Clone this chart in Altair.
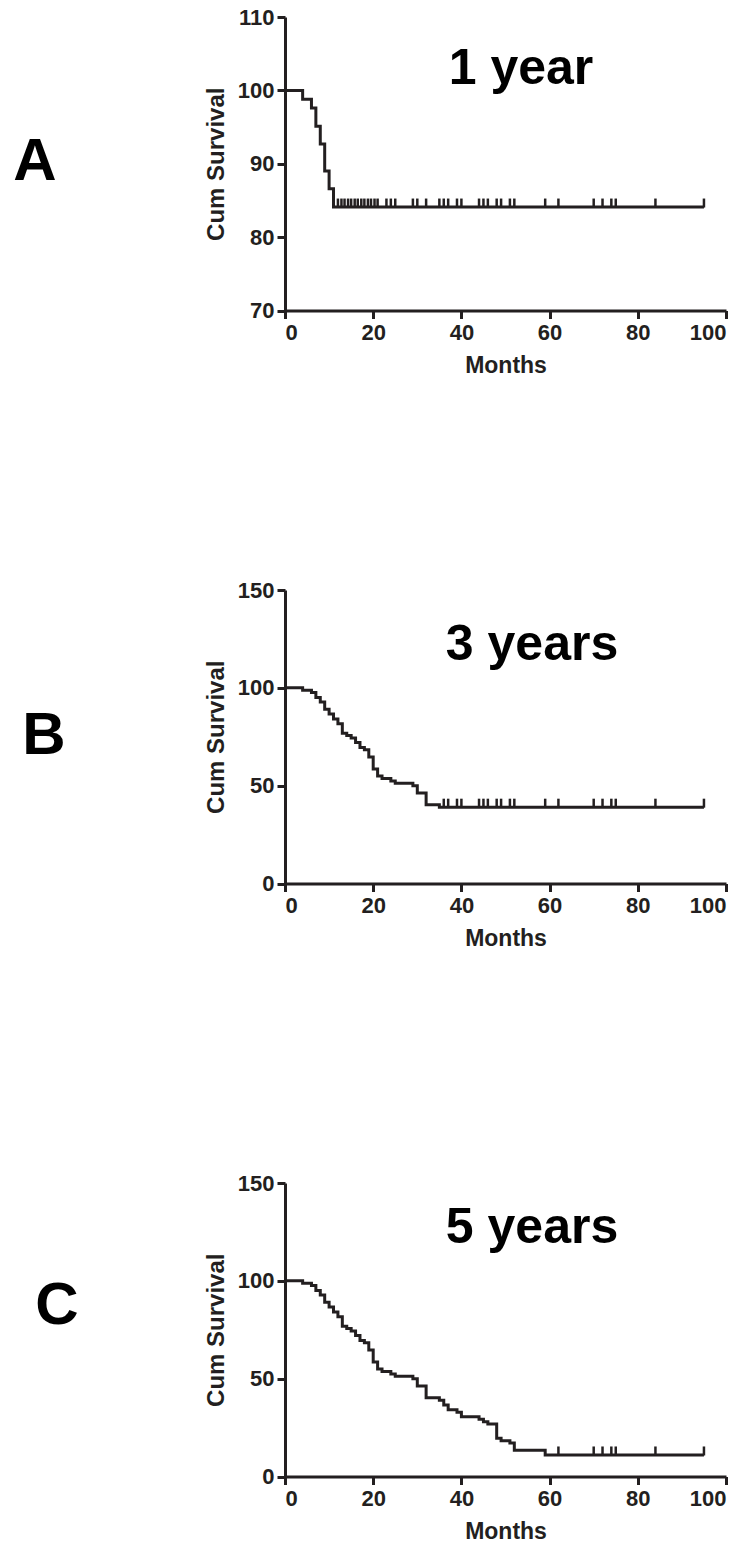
import altair as alt
import pandas as pd

INK = "#231f20"

# ---- Panel A: 1 year ----
months_a = [0, 4, 6, 7, 8, 9, 10, 11, 95]
surv_a = [100, 98.8, 97.6, 95.1, 92.7, 89.0, 86.6, 84.1, 84.1]
cens_a = [12, 12.8, 13.5, 14.3, 15, 15.8, 16.5, 17.3, 18, 18.8, 19.5, 20.3, 21,
          23, 24, 25, 29, 30, 32, 35, 36, 37, 39, 40, 44, 45, 46, 48, 49, 51, 52,
          59, 62, 70, 72, 74, 75, 84, 95]

# ---- Panel B: 3 years ----
months_b = [0, 4, 6, 7, 8, 9, 10, 11, 12, 13, 14, 15, 16, 17, 18, 19, 20, 21, 22,
            24, 25, 29, 30, 32, 35, 95]
surv_b = [100, 98.8, 97.6, 95.1, 92.7, 89.0, 86.6, 84.1, 81.7, 76.8, 75.6, 74.4,
          72.0, 69.5, 68.3, 64.6, 58.5, 54.9, 53.7, 52.4, 51.2, 50.0, 46.3, 40.2,
          39.0, 39.0]
cens_b = [36, 37, 39, 40, 44, 45, 46, 48, 49, 51, 52, 59, 62, 70, 72, 74, 75, 84, 95]

# ---- Panel C: 5 years ----
months_c = [0, 4, 6, 7, 8, 9, 10, 11, 12, 13, 14, 15, 16, 17, 18, 19, 20, 21, 22,
            24, 25, 29, 30, 32, 35, 36, 37, 39, 40, 44, 45, 46, 48, 49, 51, 52, 59, 95]
surv_c = [100, 98.8, 97.6, 95.1, 92.7, 89.0, 86.6, 84.1, 81.7, 76.8, 75.6, 74.4,
          72.0, 69.5, 68.3, 64.6, 58.5, 54.9, 53.7, 52.4, 51.2, 50.0, 46.3, 40.2,
          39.0, 36.6, 34.1, 32.9, 30.5, 29.3, 28.0, 26.8, 19.5, 18.3, 17.1, 13.4,
          11.0, 11.0]
cens_c = [62, 70, 72, 74, 75, 84, 95]

x_ticks = [0, 20, 40, 60, 80, 100]


def step_value(times, surv, t):
    v = surv[0]
    for ti, si in zip(times, surv):
        if ti <= t:
            v = si
    return v


def panel(times, surv, cens, ydom, yticks, title, title_dx, title_dy,
          letter, letter_dx, letter_dy):
    curve = pd.DataFrame({"Months": times, "Survival": surv})
    cdf = pd.DataFrame({"Months": cens,
                        "Survival": [step_value(times, surv, t) for t in cens]})
    xs = alt.Scale(domain=[0, 100], nice=False, zero=False)
    ys = alt.Scale(domain=ydom, nice=False, zero=False)
    xax = alt.Axis(values=x_ticks, title="Months", format="d")
    yax = alt.Axis(values=yticks, title="Cum Survival", format="d")
    line = alt.Chart(curve).mark_line(
        interpolate="step-after", color=INK, strokeWidth=3
    ).encode(
        x=alt.X("Months:Q", scale=xs, axis=xax),
        y=alt.Y("Survival:Q", scale=ys, axis=yax),
    )
    ticks = alt.Chart(cdf).mark_tick(
        orient="vertical", size=9, thickness=2.5, color=INK, yOffset=-4, opacity=1
    ).encode(
        x=alt.X("Months:Q", scale=xs),
        y=alt.Y("Survival:Q", scale=ys),
    )
    ttl = alt.Chart(pd.DataFrame({"t": [title]})).mark_text(
        fontSize=50, fontWeight="bold", color="black", align="center",
        baseline="alphabetic"
    ).encode(x=alt.value(title_dx), y=alt.value(title_dy), text="t:N")
    let = alt.Chart(pd.DataFrame({"t": [letter]})).mark_text(
        fontSize=60, fontWeight="bold", color="black", align="center",
        baseline="middle"
    ).encode(x=alt.value(letter_dx), y=alt.value(letter_dy), text="t:N")
    return alt.layer(line, ticks, ttl, let).properties(width=441, height=293.5)


pa = panel(months_a, surv_a, cens_a, [70, 110], [70, 80, 90, 100, 110],
           "1 year", 236, 67, "A", -250, 145)
pb = panel(months_b, surv_b, cens_b, [0, 150], [0, 50, 100, 150],
           "3 years", 247, 70, "B", -241, 146)
pc = panel(months_c, surv_c, cens_c, [0, 150], [0, 50, 100, 150],
           "5 years", 247, 60, "C", -228, 123)

inner = alt.vconcat(pa, pb, spacing=201)
chart = alt.vconcat(inner, pc, spacing=221).properties(
    padding={"left": 13, "top": 6, "right": 5, "bottom": 5}
).configure(
    font="Liberation Sans"
).configure_view(
    stroke=None
).configure_axis(
    grid=False,
    domainColor=INK, domainWidth=3,
    tickColor=INK, tickWidth=3, tickSize=8,
    labelColor=INK, labelFont="Liberation Sans", labelFontSize=22,
    labelFontWeight="bold", labelPadding=3,
    titleColor=INK, titleFont="Liberation Sans", titleFontSize=24,
    titleFontWeight="bold",
).configure_axisX(
    titlePadding=11, labelPadding=4, titleFontSize=23
).configure_axisY(
    titlePadding=9
)

chart.save("out.html", embed_options={"renderer": "svg", "actions": False})
